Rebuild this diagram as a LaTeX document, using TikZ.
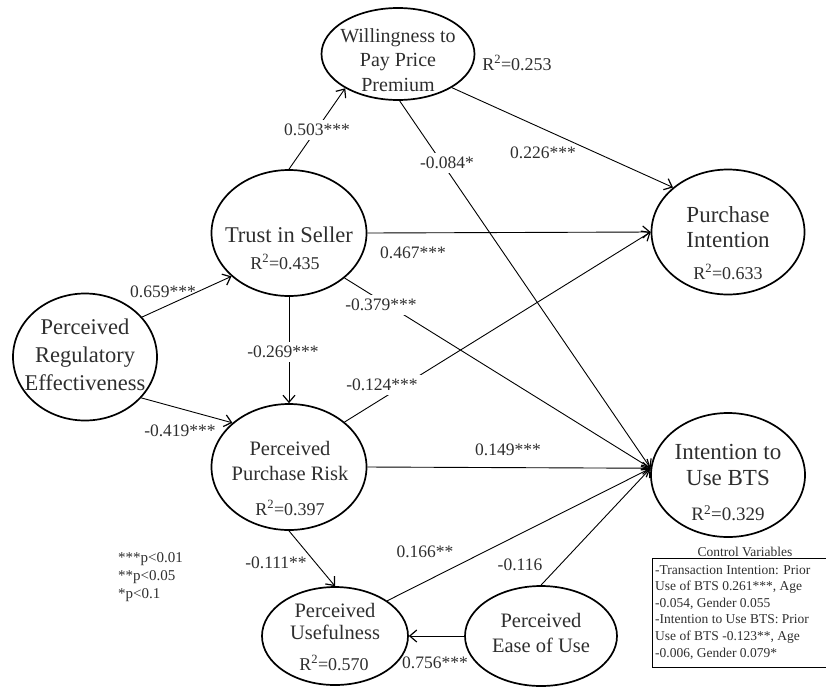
\documentclass[tikz,border=0pt]{standalone}
\usepackage{fontspec}
\setmainfont{Liberation Serif}
\usetikzlibrary{shapes.geometric,arrows.meta}
\definecolor{txt}{gray}{0.18}
\begin{document}
\begin{tikzpicture}[x=1pt,y=-1pt,
  latent/.style={draw, ellipse, line width=1.7pt, inner sep=0pt},
  bigtxt/.style={align=center, inner sep=0pt, text=txt, font=\fontsize{22.5}{28}\selectfont},
  midtxt/.style={align=center, inner sep=0pt, text=txt, font=\fontsize{20.5}{25}\selectfont},
  rsq/.style={inner sep=0pt, text=txt, font=\fontsize{18}{20}\selectfont},
  elab/.style={inner sep=0pt, text=txt, font=\fontsize{17.5}{20}\selectfont},
  wlab/.style={elab, fill=white, inner xsep=4pt, inner ysep=4pt},
  link/.style={line width=0.9pt, -{Straight Barb[length=7pt,width=12pt,line width=1.2pt]}},
]
\useasboundingbox (0,0) rectangle (826,686);

% latent variables
\node[latent, minimum width=153pt, minimum height=92pt]  (wpp) at (398,54) {};
\node[latent, minimum width=155pt, minimum height=126pt] (tis) at (289,233) {};
\node[latent, minimum width=144pt, minimum height=127pt] (pre) at (85,357) {};
\node[latent, minimum width=153pt, minimum height=125pt] (pi)  at (728,232) {};
\node[latent, minimum width=154pt, minimum height=124pt] (bts) at (728,475) {};
\node[latent, minimum width=155pt, minimum height=126pt] (ppr) at (289,467) {};
\node[latent, minimum width=146pt, minimum height=98pt]  (pu)  at (335,636) {};
\node[latent, minimum width=152pt, minimum height=100pt] (peu) at (541,636) {};

% texts in ellipses
\node[midtxt, font=\fontsize{20}{24.5}\selectfont] (wppt) at (398,60) {Willingness to\\Pay Price\\Premium};
\node[rsq] (wppr) at (517,63) {R\textsuperscript{2}=0.253};
\node[bigtxt] (tist) at (289,235) {Trust in Seller};
\node[rsq] (tisr) at (285,262) {R\textsuperscript{2}=0.435};
\node[bigtxt] (pret) at (85,355) {Perceived\\Regulatory\\Effectiveness};
\node[bigtxt, font=\fontsize{23}{25}\selectfont] (pit) at (728,227.5) {Purchase\\Intention};
\node[rsq] (pir) at (728,272) {R\textsuperscript{2}=0.633};
\node[bigtxt, font=\fontsize{23}{26}\selectfont] (btst) at (728,465) {Intention to\\Use BTS};
\node[rsq, font=\fontsize{19}{21}\selectfont] (btsr) at (728,513) {R\textsuperscript{2}=0.329};
\node[midtxt] (pprt) at (290,460.5) {Perceived\\Purchase Risk};
\node[rsq] (pprr) at (290,508) {R\textsuperscript{2}=0.397};
\node[midtxt, font=\fontsize{20.5}{22}\selectfont] (put) at (335,621) {Perceived\\Usefulness};
\node[rsq] (pur) at (334,663) {R\textsuperscript{2}=0.570};
\node[midtxt] (peut) at (541,632.5) {Perceived\\Ease of Use};

% paths
\draw[link] (pre.35.5) -- (tis.217.6);
\draw[link] (pre.324) -- (ppr.142);
\draw[link] (tis.north) -- (wpp.213);
\draw[link] (tis.south) -- (ppr.north);
\draw[link] (tis.east) -- (pi.west);
\draw[link] (tis.321) -- (bts.175);
\draw[link] (wpp.328) -- (pi.141);
\draw[link] (wpp.272) -- (bts.175);
\draw[link] (ppr.39) -- (pi.west);
\draw[link] (ppr.east) -- (bts.175);
\draw[link] (ppr.south) -- (pu.north);
\draw[link] (pu.34) -- (bts.175);
\draw[link] (peu.north) -- (bts.175);
\draw[link] (peu.west) -- (pu.east);

% coefficients
\node[elab] (l1) at (163,292) {0.659***};
\node[elab] (l2) at (180,431) {-0.419***};
\node[wlab] (l3) at (317,130) {0.503***};
\node[wlab] (l4) at (283,352) {-0.269***};
\node[elab] (l5) at (413,253) {0.467***};
\node[wlab] (l6) at (381,305) {-0.379***};
\node[wlab] (l7) at (382,385) {-0.124***};
\node[elab] (l8) at (543,153) {0.226***};
\node[wlab] (l9) at (447,163) {-0.084*};
\node[elab] (l10) at (508,450) {0.149***};
\node[elab] (l11) at (276,563) {-0.111**};
\node[elab] (l12) at (425,552) {0.166**};
\node[elab] (l13) at (520,565) {-0.116};
\node[elab] (l14) at (435,663) {0.756***};

% significance legend
\node[anchor=west, inner sep=0pt, text=txt, font=\fontsize{15}{18}\selectfont, align=left] (sig) at (118,577) {***p<0.01\\**p<0.05\\*p<0.1};

% control variables
\node[inner sep=0pt, text=txt, font=\fontsize{13.5}{16}\selectfont] (ctitle) at (745,552) {Control Variables};
\draw[line width=0.8pt] (652,558) rectangle (827,667);
\node[anchor=north west, inner sep=0pt, align=left, text=txt, font=\fontsize{13.5}{16.6}\selectfont] (ctext) at (655,565) {-Transaction Intention: Prior\\Use of BTS 0.261***, Age\\-0.054, Gender 0.055\\-Intention to Use BTS: Prior\\Use of BTS -0.123**, Age\\-0.006, Gender 0.079*};
\end{tikzpicture}
\end{document}
